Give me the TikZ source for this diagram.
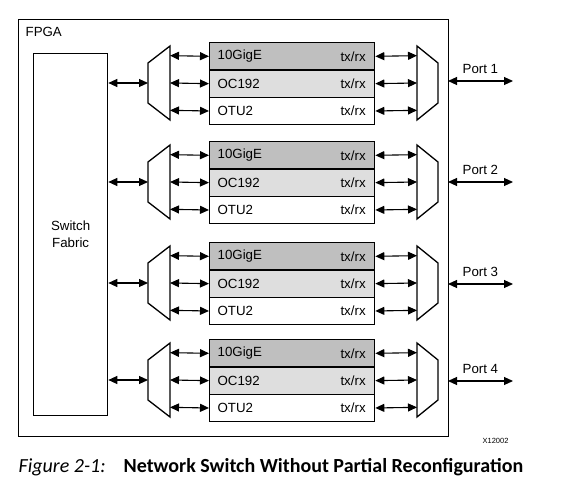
\documentclass[tikz,border=0pt]{standalone}
\usepackage{fontspec}
\setmainfont{Liberation Sans}
\newfontfamily\capfont{Carlito}
\usetikzlibrary{arrows.meta}
\begin{document}
\begin{tikzpicture}[x=1pt,y=-1pt, line width=1.3pt,
  biarrow/.style={{Triangle[length=9pt,width=8pt]}-{Triangle[length=9pt,width=8pt]}, line width=1.1pt},
  rowbox/.style={draw, line width=1.3pt, minimum width=165pt, minimum height=27.33pt, anchor=north west, inner sep=0},
  lbl/.style={font=\fontsize{13.3}{15}\selectfont, inner sep=0},
  muxshape/.style={draw, line width=1.3pt, line join=miter}]
\useasboundingbox (0,0) rectangle (563,486);
% FPGA frame
\node[draw, line width=1.4pt, anchor=north west, minimum width=430pt, minimum height=417pt, inner sep=0] (fpga) at (18,19) {};
\node[lbl, anchor=north west] (fpgalbl) at (25,27) {FPGA};
% Switch fabric
\node[draw, line width=1.3pt, anchor=north west, minimum width=74pt, minimum height=362pt, inner sep=0, align=center, font=\fontsize{13.3}{17}\selectfont] (fabric) at (33,53) {Switch\\Fabric};
\foreach \i/\T/\p in {1/42/81, 2/141/182, 3/242/284, 4/339/381}{
  \node[rowbox, fill=black!25] (a\i) at (209,\T) {};
  \node[rowbox, fill=black!13] (b\i) at (209,\T+27.33) {};
  \node[rowbox, fill=white] (c\i) at (209,\T+54.67) {};
  \node[lbl, anchor=west] (an\i) at ([xshift=8pt]a\i.west) {10GigE};
  \node[lbl, anchor=west] (bn\i) at ([xshift=8pt]b\i.west) {OC192};
  \node[lbl, anchor=west] (cn\i) at ([xshift=8pt]c\i.west) {OTU2};
  \node[lbl, anchor=east] (at\i) at ([xshift=-9pt]a\i.east) {tx/rx};
  \node[lbl, anchor=east] (bt\i) at ([xshift=-9pt]b\i.east) {tx/rx};
  \node[lbl, anchor=east] (ct\i) at ([xshift=-9pt]c\i.east) {tx/rx};
  % left mux
  \draw[muxshape] (148,\T+21) -- (170,\T+4) -- (170,\T+78) -- (148,\T+61) -- cycle;
  \coordinate (lmin\i) at (148,\T+41);
  \coordinate (lma\i) at (170,\T+13.67);
  \coordinate (lmb\i) at (170,\T+41);
  \coordinate (lmc\i) at (170,\T+68.33);
  % right mux
  \draw[muxshape] (417,\T+4) -- (438,\T+21) -- (438,\T+61) -- (417,\T+78) -- cycle;
  \coordinate (rma\i) at (417,\T+13.67);
  \coordinate (rmb\i) at (417,\T+41);
  \coordinate (rmc\i) at (417,\T+68.33);
  % connectors
  \draw[biarrow] (fabric.east |- lmin\i) -- (lmin\i);
  \draw[biarrow] (lma\i) -- (a\i.west);
  \draw[biarrow] (lmb\i) -- (b\i.west);
  \draw[biarrow] (lmc\i) -- (c\i.west);
  \draw[biarrow] (a\i.east) -- (rma\i);
  \draw[biarrow] (b\i.east) -- (rmb\i);
  \draw[biarrow] (c\i.east) -- (rmc\i);
  % port
  \coordinate (pin\i) at (448,\p);
  \coordinate (pout\i) at (513,\p);
  \draw[biarrow] (pin\i) -- (pout\i);
  \node[lbl, anchor=base west] (port\i) at (462,\p-7) {Port \i};
}
\node[inner sep=0, anchor=west, font=\fontsize{7.5}{9}\selectfont] (xid) at (482,441) {X12002};
\node[inner sep=0, anchor=base west, font=\capfont\fontsize{20}{22}\selectfont\itshape] (figno) at (18,473) {Figure 2-1:};
\node[inner sep=0, anchor=base west, font=\capfont\fontsize{20}{22}\selectfont\bfseries] (figtitle) at (123,473) {Network Switch Without Partial Reconfiguration};
\end{tikzpicture}
\end{document}
